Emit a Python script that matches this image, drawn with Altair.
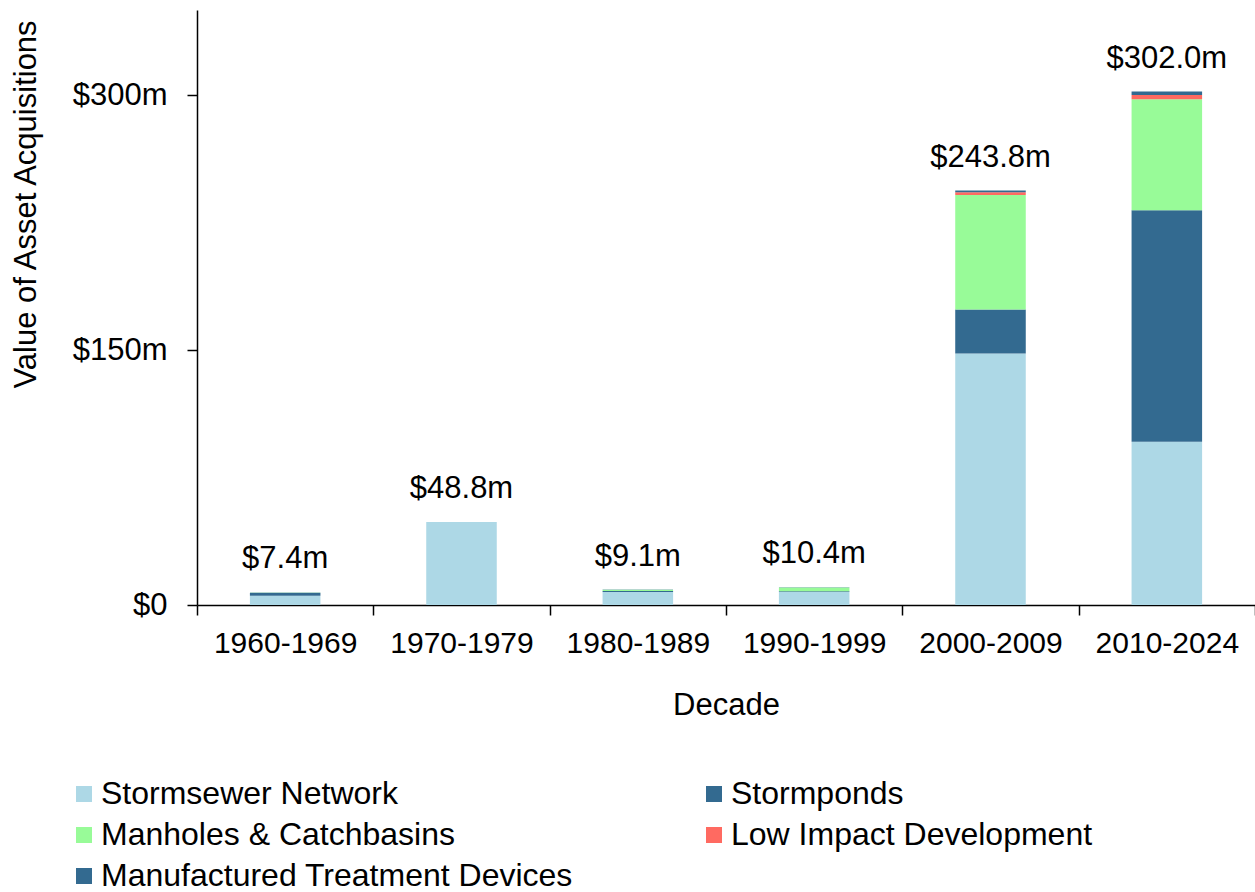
import altair as alt
import pandas as pd

decades = ["1960-1969", "1970-1979", "1980-1989", "1990-1999", "2000-2009", "2010-2024"]
categories = ["Stormsewer Network", "Stormponds", "Manholes & Catchbasins",
              "Low Impact Development", "Manufactured Treatment Devices"]
stormsewer = [5.4, 48.8, 7.6, 7.7, 147.9, 96.1]
stormponds = [1.6, 0.0, 0.7, 0.4, 25.9, 136.1]
manholes = [0.2, 0.0, 0.7, 2.2, 67.4, 65.3]
lid = [0.0, 0.0, 0.0, 0.0, 1.6, 2.5]
mtd = [0.2, 0.0, 0.1, 0.1, 1.0, 2.0]
totals = [7.4, 48.8, 9.1, 10.4, 243.8, 302.0]
colors = ["#ADD8E6", "#336A90", "#98FB98", "#FF6A61", "#336A90"]

# legend fills column by column; order so it reads row by row like the reference
legend_order = [0, 2, 4, 1, 3]
legend_domain = [categories[i] for i in legend_order]
legend_range = [colors[i] for i in legend_order]

series = [stormsewer, stormponds, manholes, lid, mtd]
rows = []
for ci, (cat, vals) in enumerate(zip(categories, series)):
    for d, v in zip(decades, vals):
        rows.append({"Decade": d, "Category": cat, "Value": v, "idx": ci})
df = pd.DataFrame(rows)
tot_df = pd.DataFrame({"Decade": decades, "Total": totals,
                       "Label": ["$%.1fm" % t for t in totals]})

FONT = "Liberation Sans"

x_enc = alt.X("Decade:N", sort=decades,
              scale=alt.Scale(paddingInner=0, paddingOuter=0),
              axis=alt.Axis(title="Decade", labelAngle=0, tickBand="extent",
                            labelFontSize=30, titleFontSize=31, labelColor="#000",
                            titleColor="#000", titleFontWeight="normal",
                            domainColor="#000", tickColor="#000", domainWidth=1.5,
                            tickWidth=1.5, tickSize=10, labelPadding=13,
                            titleY=109, titleBaseline="alphabetic"))

bars = alt.Chart(df).mark_bar(width={"band": 0.4}).encode(
    x=x_enc,
    y=alt.Y("sum(Value):Q", stack="zero",
            scale=alt.Scale(domain=[0, 350], nice=False),
            axis=alt.Axis(title="Value of Asset Acquisitions", values=[0, 150, 300],
                          labelExpr="datum.value == 0 ? '$0' : '$' + datum.value + 'm'",
                          grid=False, labelFontSize=31, titleFontSize=31,
                          labelColor="#000", titleColor="#000", titleFontWeight="normal",
                          domainColor="#000", tickColor="#000", domainWidth=1.5,
                          tickWidth=1.5, tickSize=10, labelPadding=20,
                          titleAngle=270, titleAlign="center", titleBaseline="alphabetic",
                          titleX=-162, titleY=194)),
    color=alt.Color("Category:N",
                    scale=alt.Scale(domain=legend_domain, range=legend_range),
                    legend=alt.Legend(title=None, orient="none", legendX=-129, legendY=768,
                                      columns=2, columnPadding=125, rowPadding=9,
                                      symbolType="square", symbolSize=256,
                                      symbolStrokeWidth=0, labelFontSize=32,
                                      labelColor="#000", labelLimit=700, labelOffset=1,
                                      padding=0)),
    order=alt.Order("idx:Q", sort="ascending"),
)

labels = alt.Chart(tot_df).mark_text(fontSize=31, font=FONT, color="#000",
                                     baseline="alphabetic", dy=-24).encode(
    x=alt.X("Decade:N", sort=decades),
    y=alt.Y("Total:Q"),
    text="Label:N",
)

chart = alt.layer(bars, labels).properties(
    width=1058, height=595,
    autosize=alt.AutoSizeParams(type="none"),
    padding={"left": 197, "top": 10, "right": 0, "bottom": 287},
).configure(font=FONT).configure_view(stroke=None)

chart.save("out.html", embed_options={"renderer": "svg", "actions": False})
